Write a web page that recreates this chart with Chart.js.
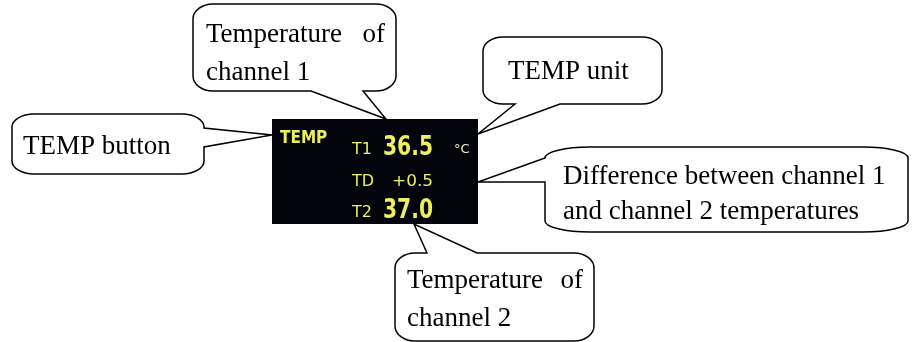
<!DOCTYPE html>
<html>
<head>
<meta charset="utf-8">
<script src="https://cdn.jsdelivr.net/npm/chart.js@4.4.1/dist/chart.umd.min.js"></script>
<style>
  html, body { margin: 0; padding: 0; background: #fff; }
  #temp-diagram { display: block; }
</style>
</head>
<body>
<canvas id="temp-diagram" width="914" height="342"></canvas>
<script>
// readings shown on the monitor panel
const buttonLabel = 'TEMP';
const channelLabels = ['T1', 'TD', 'T2'];
const channelValues = [36.5, 0.5, 37.0];
const unitLabel = '\u00B0C';

// callout texts (one array per bubble, one entry per line)
const calloutT1 = ['Temperature  of', 'channel 1'];
const calloutUnit = ['TEMP unit'];
const calloutButton = ['TEMP button'];
const calloutDiff = ['Difference between channel 1', 'and channel 2 temperatures'];
const calloutT2 = ['Temperature  of', 'channel 2'];

// layout, in canvas units (scales run 0..914 and 0..342)
const panel = { x0: 272, y0: 119, x1: 478, y1: 224 };
const bubbles = [
  { lines: calloutT1, box: [193, 4, 396, 91], r: [20, 15], side: 'bottom', base: [311, 363], tip: [386, 119],
    tx: 206, ty: [42, 80], justify: 385 },
  { lines: calloutUnit, box: [483, 37, 662, 104], r: [20, 14], side: 'bottom', base: [515, 560], tip: [478, 134],
    tx: 508, ty: [79] },
  { lines: calloutButton, box: [12, 114, 204, 174], r: [22, 13], side: 'right', base: [128, 147], tip: [272, 135],
    tx: 23, ty: [154] },
  { lines: calloutDiff, box: [545, 147, 908, 232], r: [45, 11], side: 'left', base: [158, 182], tip: [478, 182],
    tx: 563, ty: [184, 219] },
  { lines: calloutT2, box: [395, 253, 594, 341], r: [20, 15], side: 'top', base: [427, 477], tip: [414, 224],
    tx: 407, ty: [288, 326], justify: 583 }
];

const K = 0.5523;

function bubblePath(ctx, b, px, py) {
  const x0 = px(b.box[0]), y0 = py(b.box[1]), x1 = px(b.box[2]), y1 = py(b.box[3]);
  const rx = b.r[0], ry = b.r[1];
  const tip = [px(b.tip[0]), py(b.tip[1])];
  const lo = Math.min(b.base[0], b.base[1]), hi = Math.max(b.base[0], b.base[1]);
  ctx.beginPath();
  ctx.moveTo(x0 + rx, y0);
  if (b.side === 'top') { ctx.lineTo(px(lo), y0); ctx.lineTo(tip[0], tip[1]); ctx.lineTo(px(hi), y0); }
  ctx.lineTo(x1 - rx, y0);
  ctx.bezierCurveTo(x1 - rx + K * rx, y0, x1, y0 + ry - K * ry, x1, y0 + ry);
  if (b.side === 'right') { ctx.lineTo(x1, py(lo)); ctx.lineTo(tip[0], tip[1]); ctx.lineTo(x1, py(hi)); }
  ctx.lineTo(x1, y1 - ry);
  ctx.bezierCurveTo(x1, y1 - ry + K * ry, x1 - rx + K * rx, y1, x1 - rx, y1);
  if (b.side === 'bottom') { ctx.lineTo(px(hi), y1); ctx.lineTo(tip[0], tip[1]); ctx.lineTo(px(lo), y1); }
  ctx.lineTo(x0 + rx, y1);
  ctx.bezierCurveTo(x0 + rx - K * rx, y1, x0, y1 - ry + K * ry, x0, y1 - ry);
  if (b.side === 'left') { ctx.lineTo(x0, py(hi)); ctx.lineTo(tip[0], tip[1]); ctx.lineTo(x0, py(lo)); }
  ctx.lineTo(x0, y0 + ry);
  ctx.bezierCurveTo(x0, y0 + ry - K * ry, x0 + rx - K * rx, y0, x0 + rx, y0);
  ctx.closePath();
}

function fmt(label, v) {
  if (label === 'TD') return (v >= 0 ? '+' : '') + v.toFixed(1);
  return v.toFixed(1);
}

// draw text right-aligned at x, squeezed/stretched to a given width
function fitText(ctx, text, xRight, y, width) {
  const w = ctx.measureText(text).width;
  ctx.save();
  ctx.translate(xRight - width, y);
  ctx.scale(width / w, 1);
  ctx.textAlign = 'left';
  ctx.fillText(text, 0, 0);
  ctx.restore();
}

const diagramPlugin = {
  id: 'diagram',
  afterDraw(chart) {
    const ctx = chart.ctx;
    const px = v => chart.scales.x.getPixelForValue(v);
    const py = v => chart.scales.y.getPixelForValue(v);
    const labels = chart.data.labels;
    const values = chart.data.datasets[0].data;
    ctx.save();

    // monitor panel
    ctx.fillStyle = '#03030b';
    ctx.fillRect(px(panel.x0), py(panel.y0), px(panel.x1) - px(panel.x0), py(panel.y1) - py(panel.y0));
    ctx.fillStyle = '#ecf05c';
    ctx.textBaseline = 'alphabetic';
    ctx.textAlign = 'left';
    ctx.font = 'bold 17px "DejaVu Sans Condensed", "DejaVu Sans", sans-serif';
    ctx.fillText(buttonLabel, px(280), py(143));

    const rowBase = [154, 186, 217];
    labels.forEach((lab, i) => {
      ctx.textAlign = 'left';
      ctx.font = '16px "DejaVu Sans", sans-serif';
      ctx.fillText(lab, px(352), py(rowBase[i]));
      if (lab === 'TD') {
        ctx.font = '16px "DejaVu Sans", sans-serif';
        fitText(ctx, fmt(lab, values[i]), px(433), py(rowBase[i]), 41);
      } else {
        ctx.font = 'bold 26px "DejaVu Sans Condensed", "DejaVu Sans", sans-serif';
        fitText(ctx, fmt(lab, values[i]), px(433), py(rowBase[i] + 1), 50);
      }
    });
    ctx.textAlign = 'left';
    ctx.fillStyle = '#f0f0d0';
    ctx.font = '13px "DejaVu Sans", sans-serif';
    ctx.fillText(unitLabel, px(454), py(153));

    // callout bubbles
    ctx.lineWidth = 1.5;
    ctx.strokeStyle = '#000';
    ctx.lineJoin = 'miter';
    bubbles.forEach(b => {
      bubblePath(ctx, b, px, py);
      ctx.fillStyle = '#fff';
      ctx.fill();
      ctx.stroke();
      ctx.fillStyle = '#000';
      ctx.font = '27px "Liberation Serif", "Times New Roman", serif';
      b.lines.forEach((line, i) => {
        const parts = line.split('  ');
        if (b.justify && i === 0 && parts.length === 2) {
          ctx.textAlign = 'left';
          ctx.fillText(parts[0], px(b.tx), py(b.ty[i]));
          ctx.textAlign = 'right';
          ctx.fillText(parts[1], px(b.justify), py(b.ty[i]));
        } else {
          ctx.textAlign = 'left';
          ctx.fillText(line, px(b.tx), py(b.ty[i]));
        }
      });
    });
    ctx.restore();
  }
};

new Chart(document.getElementById('temp-diagram'), {
  type: 'scatter',
  data: {
    labels: channelLabels,
    datasets: [{
      label: 'Temperature',
      data: channelValues,
      pointRadius: 0,
      showLine: false
    }]
  },
  options: {
    responsive: false,
    animation: false,
    events: [],
    layout: { padding: 0 },
    plugins: { legend: { display: false }, tooltip: { enabled: false } },
    scales: {
      x: { type: 'linear', min: 0, max: 914, display: false },
      y: { type: 'linear', min: 0, max: 342, reverse: true, display: false }
    }
  },
  plugins: [diagramPlugin]
});
</script>
</body>
</html>
